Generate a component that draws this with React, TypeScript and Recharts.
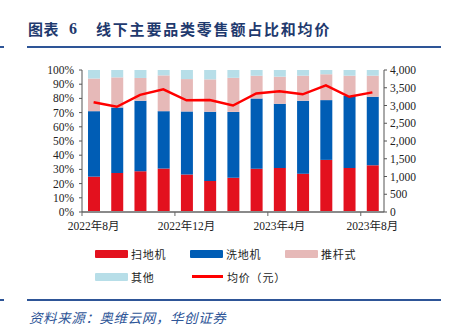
import { ComposedChart, Bar, Line, XAxis, YAxis } from "recharts";

const months = [
  "2022年8月", "2022年9月", "2022年10月", "2022年11月", "2022年12月",
  "2023年1月", "2023年2月", "2023年3月", "2023年4月", "2023年5月",
  "2023年6月", "2023年7月", "2023年8月",
];
// 零售额占比 (%)
const sweeperShare = [24.9, 27.5, 28.7, 30.6, 26.4, 21.9, 24.1, 30.4, 31.0, 27.0, 36.7, 31.0, 32.9];
const washerShare = [46.1, 46.1, 49.7, 40.4, 44.4, 48.7, 46.4, 49.6, 45.2, 51.4, 42.1, 50.9, 48.3];
const pushShare = [23.0, 21.2, 16.0, 25.2, 22.8, 22.8, 24.0, 16.0, 19.1, 17.6, 18.2, 14.1, 14.8];
const otherShare = [6.0, 5.2, 5.6, 3.8, 6.4, 6.6, 5.5, 4.0, 4.7, 4.0, 3.0, 4.0, 4.0];
// 均价 (元)
const avgPrice = [3090, 2965, 3300, 3455, 3145, 3155, 3000, 3340, 3400, 3315, 3565, 3245, 3370];

const pctTicks = [0, 10, 20, 30, 40, 50, 60, 70, 80, 90, 100];
const priceTicks = [0, 500, 1000, 1500, 2000, 2500, 3000, 3500, 4000];

const data = months.map((month, i) => ({
  month,
  sweeper: sweeperShare[i],
  washer: washerShare[i],
  push: pushShare[i],
  other: otherShare[i],
  price: avgPrice[i],
}));

const C = {
  red: "#E3111E",
  blue: "#005DB5",
  pink: "#E6B9B8",
  light: "#B7DEE8",
  line: "#FF0000",
  navy: "#1F3A6E",
  rule: "#2E5597",
};

const serif = "'Liberation Serif', 'Noto Sans CJK SC', serif";
const cjk = "'Noto Sans CJK SC', sans-serif";

const PLOT_W = 302;
const band = PLOT_W / months.length;

function MonthTick(props: any) {
  const { x, y, index, payload } = props;
  if (index % 4 !== 0) return null;
  const tx = x - band / 2;
  return (
    <g>
      <line x1={tx} x2={tx} y1={y} y2={y + 4} stroke="#666" strokeWidth={1} />
      <text x={x} y={y + 18} textAnchor="middle" fontSize={11.5} fontFamily={serif} fill="#222">
        {payload.value}
      </text>
    </g>
  );
}

const legendRows = [
  [
    { name: "扫地机", color: C.red, kind: "box", x: 95 },
    { name: "洗地机", color: C.blue, kind: "box", x: 190 },
    { name: "推杆式", color: C.pink, kind: "box", x: 285 },
  ],
  [
    { name: "其他", color: C.light, kind: "box", x: 95 },
    { name: "均价（元）", color: C.line, kind: "line", x: 191 },
  ],
];

const titleStyle = {
  position: "absolute" as const,
  top: 19,
  fontFamily: cjk,
  fontSize: 15,
  fontWeight: 700,
  color: C.navy,
  whiteSpace: "nowrap" as const,
  lineHeight: "20px",
};

export default function App() {
  return (
    <div
      style={{
        position: "absolute",
        left: 0,
        top: 0,
        width: 458,
        height: 329,
        background: "#fff",
        overflow: "hidden",
      }}
    >
      {/* title */}
      <div style={{ ...titleStyle, left: 28, letterSpacing: 0.5 }}>图表</div>
      <div style={{ ...titleStyle, left: 69, fontFamily: serif, fontSize: 16 }}>6</div>
      <div style={{ ...titleStyle, left: 96, letterSpacing: 1.8 }}>线下主要品类零售额占比和均价</div>
      <div style={{ position: "absolute", left: 27, top: 46, width: 414, height: 2, background: C.rule }} />
      <div style={{ position: "absolute", left: 0, top: 46, width: 4, height: 2, background: C.rule }} />

      <div style={{ position: "absolute", left: 0, top: 0 }}>
        <ComposedChart
          width={458}
          height={235}
          data={data}
          margin={{ top: 70, right: 0, bottom: 0, left: 0 }}
          barSize={12}
        >
          <XAxis
            dataKey="month"
            height={23}
            interval={0}
            tickLine={false}
            tickSize={0}
            tickMargin={0}
            axisLine={{ stroke: "#8a8a8a", strokeWidth: 2 }}
            tick={<MonthTick />}
          />
          <YAxis
            yAxisId="pct"
            width={82}
            domain={[0, 100]}
            ticks={pctTicks}
            interval={0}
            tickFormatter={(v: number) => `${v}%`}
            tickSize={3}
            tickMargin={5}
            axisLine={{ stroke: "#555" }}
            tickLine={{ stroke: "#555" }}
            tick={{ fontSize: 11.5, fontFamily: serif, fill: "#222" }}
          />
          <YAxis
            yAxisId="price"
            orientation="right"
            width={74}
            domain={[0, 4000]}
            ticks={priceTicks}
            interval={0}
            tickFormatter={(v: number) => v.toLocaleString("en-US")}
            tickSize={3}
            tickMargin={3}
            axisLine={{ stroke: "#555" }}
            tickLine={{ stroke: "#555" }}
            tick={{ fontSize: 11.5, fontFamily: serif, fill: "#222", textAnchor: "start" }}
          />
          <Bar yAxisId="pct" dataKey="sweeper" stackId="s" fill={C.red} isAnimationActive={false} />
          <Bar yAxisId="pct" dataKey="washer" stackId="s" fill={C.blue} isAnimationActive={false} />
          <Bar yAxisId="pct" dataKey="push" stackId="s" fill={C.pink} isAnimationActive={false} />
          <Bar yAxisId="pct" dataKey="other" stackId="s" fill={C.light} isAnimationActive={false} />
          <Line
            yAxisId="price"
            type="linear"
            dataKey="price"
            stroke={C.line}
            strokeWidth={2.5}
            dot={false}
            isAnimationActive={false}
          />
        </ComposedChart>
      </div>

      {/* legend */}
      {legendRows.map((row, r) =>
        row.map((item) => (
          <div
            key={item.name}
            style={{
              position: "absolute",
              left: item.x,
              top: 246 + r * 22.5,
              height: 16,
              display: "flex",
              alignItems: "center",
              whiteSpace: "nowrap",
            }}
          >
            {item.kind === "box" ? (
              <div style={{ width: 33, height: 8, background: item.color, borderRadius: 1 }} />
            ) : (
              <div style={{ width: 31, height: 2.5, background: item.color, margin: "0 1px" }} />
            )}
            <span
              style={{
                marginLeft: 3,
                fontFamily: cjk,
                fontSize: 11,
                letterSpacing: 0.8,
                color: "#222",
              }}
            >
              {item.name}
            </span>
          </div>
        ))
      )}

      {/* source */}
      <div style={{ position: "absolute", left: 27, top: 299, width: 414, height: 1.5, background: C.rule }} />
      <div style={{ position: "absolute", left: 0, top: 299, width: 4, height: 1.5, background: C.rule }} />
      <div
        style={{
          position: "absolute",
          left: 29,
          top: 307,
          fontFamily: cjk,
          fontSize: 13.5,
          fontStyle: "italic",
          color: C.rule,
          whiteSpace: "nowrap",
          lineHeight: "20px",
          letterSpacing: 0.6,
        }}
      >
        资料来源：奥维云网，华创证券
      </div>
    </div>
  );
}
